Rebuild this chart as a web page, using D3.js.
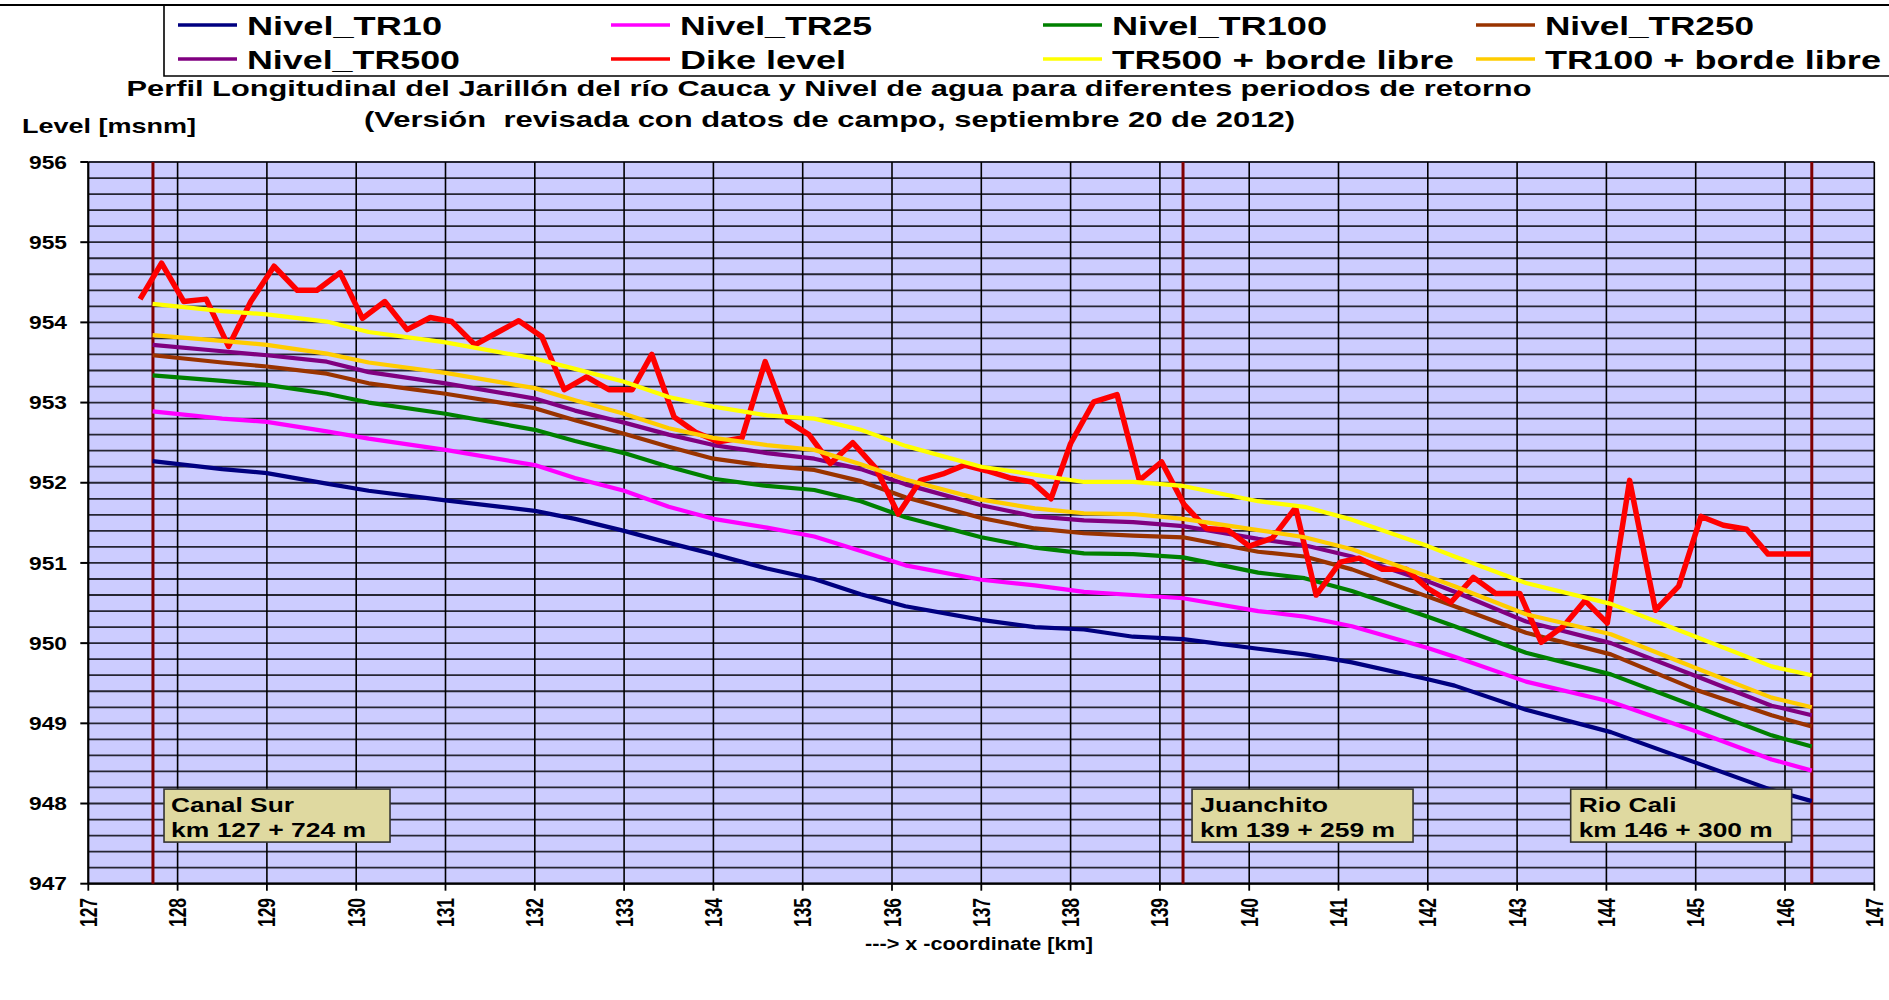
<!DOCTYPE html>
<html><head><meta charset="utf-8">
<script src="https://cdn.jsdelivr.net/npm/d3@7"></script>
<style>
body{margin:0;background:#fff}
svg{display:block}
text{font-family:"Liberation Sans",Arial,sans-serif;font-weight:bold;fill:#000}
</style>
</head><body>
<svg id="c" width="1889" height="1000"></svg>
<script>
// ---------------- DATA ----------------
const stations = [127.72,128.5,129.0,129.67,130.14,131.0,132.0,132.45,133.0,133.5,134.0,134.6,135.13,135.65,136.15,137.0,137.6,138.15,138.7,139.26,140.1,140.62,141.15,142.0,142.3,143.1,144.05,145.0,145.85,146.3];
const tr10   = [952.27,952.17,952.12,951.99,951.90,951.78,951.65,951.55,951.40,951.25,951.11,950.93,950.80,950.61,950.46,950.29,950.20,950.17,950.08,950.05,949.93,949.86,949.76,949.55,949.47,949.17,948.89,948.51,948.17,948.03];
const tr25   = [952.89,952.80,952.76,952.64,952.55,952.41,952.22,952.06,951.90,951.70,951.55,951.44,951.33,951.15,950.97,950.79,950.72,950.64,950.60,950.56,950.40,950.33,950.21,949.94,949.83,949.52,949.27,948.90,948.55,948.41];
const tr100  = [953.34,953.27,953.22,953.11,953.00,952.86,952.66,952.52,952.37,952.20,952.05,951.96,951.91,951.77,951.57,951.32,951.19,951.12,951.11,951.07,950.88,950.81,950.65,950.33,950.21,949.88,949.61,949.21,948.85,948.71];
const tr250  = [953.59,953.50,953.45,953.36,953.24,953.11,952.93,952.78,952.61,952.45,952.30,952.21,952.16,952.02,951.82,951.56,951.43,951.37,951.34,951.32,951.14,951.08,950.92,950.58,950.46,950.13,949.86,949.42,949.10,948.96];
const tr500  = [953.72,953.64,953.59,953.51,953.38,953.24,953.05,952.90,952.75,952.60,952.47,952.37,952.30,952.17,951.98,951.72,951.58,951.53,951.51,951.46,951.30,951.22,951.08,950.77,950.64,950.27,950.00,949.59,949.22,949.10];
const tr500bl= [954.23,954.14,954.10,954.01,953.88,953.75,953.55,953.42,953.26,953.07,952.95,952.84,952.80,952.66,952.46,952.20,952.10,952.01,952.01,951.96,951.77,951.70,951.54,951.21,951.08,950.75,950.49,950.08,949.71,949.60];
const tr100bl= [953.84,953.77,953.72,953.61,953.50,953.37,953.18,953.03,952.86,952.68,952.56,952.47,952.41,952.23,952.04,951.79,951.68,951.62,951.61,951.55,951.41,951.32,951.17,950.83,950.71,950.36,950.11,949.69,949.32,949.20];

const dikeKm = [127.58,127.82,128.07,128.32,128.57,128.82,129.08,129.34,129.56,129.82,130.07,130.32,130.57,130.83,131.07,131.33,131.59,131.82,132.08,132.33,132.58,132.83,133.09,133.31,133.56,133.80,134.06,134.32,134.58,134.83,135.07,135.31,135.56,135.82,136.07,136.32,136.57,136.81,137.06,137.32,137.57,137.78,138.00,138.26,138.52,138.77,139.02,139.27,139.52,139.76,140.00,140.26,140.52,140.75,141.02,141.23,141.49,141.76,141.99,142.26,142.51,142.76,143.03,143.27,143.52,143.76,144.01,144.26,144.55,144.81,145.06,145.31,145.57,145.81,146.29];
const dikeLevel = [954.29,954.74,954.26,954.29,953.70,954.26,954.70,954.40,954.40,954.62,954.05,954.26,953.91,954.06,954.01,953.72,953.88,954.02,953.82,953.16,953.32,953.16,953.16,953.60,952.82,952.63,952.51,952.56,953.51,952.77,952.60,952.24,952.50,952.18,951.61,952.03,952.11,952.22,952.15,952.06,952.01,951.80,952.49,953.01,953.10,952.03,952.26,951.73,951.43,951.41,951.21,951.31,951.69,950.60,951.01,951.06,950.92,950.92,950.69,950.51,950.82,950.62,950.62,950.01,950.21,950.53,950.25,952.03,950.41,950.71,951.58,951.47,951.42,951.11,951.11];

const seriesNames  = ["Nivel_TR10","Nivel_TR25","Nivel_TR100","Nivel_TR250","Nivel_TR500","Dike level","TR500 + borde libre","TR100 + borde libre"];
const seriesColors = ["#000080","#FF00FF","#008000","#993300","#800080","#FF0000","#FFFF00","#FFCC00"];

const xTickLabels = ["127","128","129","130","131","132","133","134","135","136","137","138","139","140","141","142","143","144","145","146","147"];
const yTickLabels = ["947","948","949","950","951","952","953","954","955","956"];

const refLines = [127.724, 139.259, 146.3];
const annotNames = ["Canal Sur","Juanchito","Rio Cali"];
const annotKm = ["km 127 + 724 m","km 139 + 259 m","km 146 + 300 m"];
const annotBoxKm = [127.848, 139.36, 143.60];

const titleLine1 = "Perfil Longitudinal del Jarillón del río Cauca y Nivel de agua para diferentes periodos de retorno";
const titleLine2 = "(Versión  revisada con datos de campo, septiembre 20 de 2012)";
const yTitle = "Level [msnm]";
const xTitle = "---> x -coordinate [km]";

// ---------------- DRAW ----------------
const svg = d3.select("#c");
const x = d3.scaleLinear().domain([127,147]).range([88.3,1874.3]);
const y = d3.scaleLinear().domain([947,956]).range([883.7,162]);

function fit(sel, len){
  sel.attr("xml:space","preserve").style("white-space","pre");
  sel.attr("textLength", len).attr("lengthAdjust","spacingAndGlyphs");
  return sel;
}

// top border line
svg.append("line").attr("x1",0).attr("x2",1889).attr("y1",5).attr("y2",5)
  .attr("stroke","#000").attr("stroke-width",2.2);

// plot background
svg.append("rect").attr("x",x(127)).attr("y",y(956))
  .attr("width",x(147)-x(127)).attr("height",y(947)-y(956)).attr("fill","#CCCCFF");

// horizontal gridlines every 0.2
const hGrid = d3.range(0,46).map(i => 947 + i*0.2);
svg.append("g").selectAll("line").data(hGrid).join("line")
  .attr("x1",x(127)).attr("x2",x(147))
  .attr("y1",d=>y(d)).attr("y2",d=>y(d))
  .attr("stroke","#262633").attr("stroke-width",1.8);

// vertical gridlines every km
const xt = xTickLabels.map(Number);
svg.append("g").selectAll("line").data(xt).join("line")
  .attr("x1",d=>x(d)).attr("x2",d=>x(d))
  .attr("y1",y(956)).attr("y2",y(947))
  .attr("stroke","#000").attr("stroke-width",1.6);

// axes lines and ticks
svg.append("line").attr("x1",x(127)).attr("x2",x(127)).attr("y1",y(956)).attr("y2",y(947)).attr("stroke","#000").attr("stroke-width",2);
svg.append("line").attr("x1",x(127)).attr("x2",x(147)).attr("y1",y(947)).attr("y2",y(947)).attr("stroke","#000").attr("stroke-width",2.2);
const yt = yTickLabels.map(Number);
svg.append("g").selectAll("line").data(yt).join("line")
  .attr("x1",x(127)-8).attr("x2",x(127)).attr("y1",d=>y(d)).attr("y2",d=>y(d))
  .attr("stroke","#000").attr("stroke-width",2);
svg.append("g").selectAll("line").data(xt).join("line")
  .attr("x1",d=>x(d)).attr("x2",d=>x(d)).attr("y1",y(947)).attr("y2",y(947)+7)
  .attr("stroke","#000").attr("stroke-width",1.8);

// y tick labels
svg.append("g").selectAll("text").data(yTickLabels).join("text")
  .attr("x",67).attr("y",d=>y(+d)+6.6).attr("text-anchor","end")
  .attr("font-size",18.5).text(d=>d).each(function(){ fit(d3.select(this),38); });

// x tick labels (rotated)
svg.append("g").selectAll("text").data(xTickLabels).join("text")
  .attr("transform",d=>`translate(${x(+d)+8.5},898) rotate(-90)`)
  .attr("text-anchor","end").attr("font-size",23.5).text(d=>d)
  .each(function(){ fit(d3.select(this),29); });

// reference vertical lines
svg.append("g").selectAll("line").data(refLines).join("line")
  .attr("x1",d=>x(d)).attr("x2",d=>x(d)).attr("y1",y(956)).attr("y2",y(947))
  .attr("stroke","#800000").attr("stroke-width",3);

// series
const trSeries = [tr10,tr25,tr100,tr250,tr500];
const line = d3.line().x(d=>x(d[0])).y(d=>y(d[1]));
const allSeries = [
  ...trSeries.map(v => stations.map((s,i)=>[s,v[i]])),
  dikeKm.map((s,i)=>[s,dikeLevel[i]]),
  stations.map((s,i)=>[s,tr500bl[i]]),
  stations.map((s,i)=>[s,tr100bl[i]])
];
svg.append("g").selectAll("path").data(allSeries).join("path")
  .attr("d",line).attr("fill","none")
  .attr("stroke",(d,i)=>seriesColors[i])
  .attr("stroke-width",(d,i)=> i===5 ? 5.5 : 4.2)
  .attr("stroke-linejoin","round");

// annotation boxes
const ag = svg.append("g").selectAll("g").data(annotNames).join("g")
  .attr("transform",(d,i)=>`translate(${x(annotBoxKm[i])},${y(948.18)})`);
ag.append("rect").attr("width",(d,i)=> i===0 ? 226 : 221).attr("height",53)
  .attr("fill","#DFD9A0").attr("stroke","#333").attr("stroke-width",1.6);
const nameW = [123,128,98];
ag.append("text").attr("x",(d,i)=> i===0?7:8).attr("y",23).attr("font-size",21).text(d=>d)
  .each(function(d,i){ fit(d3.select(this),nameW[i]); });
ag.append("text").attr("x",(d,i)=> i===0?7:8).attr("y",48).attr("font-size",21).text((d,i)=>annotKm[i])
  .each(function(d,i){ fit(d3.select(this),i===2?194:195); });

// legend box
svg.append("path").attr("d","M1889,76 H164 V5").attr("fill","none").attr("stroke","#000").attr("stroke-width",1.6);
const legX = [178,611,1043,1476], legY = [25,59];
const legW = [195,192,215,209,213,166,342,336];
const lg = svg.append("g").selectAll("g").data(seriesNames).join("g")
  .attr("transform",(d,i)=>`translate(${legX[i%4]},${legY[Math.floor(i/4)]})`);
lg.append("line").attr("x1",0).attr("x2",59).attr("y1",0).attr("y2",0)
  .attr("stroke",(d,i)=>seriesColors[i]).attr("stroke-width",3.6);
lg.append("text").attr("x",69).attr("y",9.5).attr("font-size",25).text(d=>d)
  .each(function(d,i){ fit(d3.select(this),legW[i]); });

// titles
fit(svg.append("text").attr("x",126.5).attr("y",96).attr("font-size",22.5).text(titleLine1),1405);
fit(svg.append("text").attr("x",364).attr("y",126.5).attr("font-size",22.5).text(titleLine2),931);
fit(svg.append("text").attr("x",22).attr("y",133).attr("font-size",21).text(yTitle),174);
fit(svg.append("text").attr("x",865).attr("y",950).attr("font-size",17.5).text(xTitle),228);
</script>
</body></html>
